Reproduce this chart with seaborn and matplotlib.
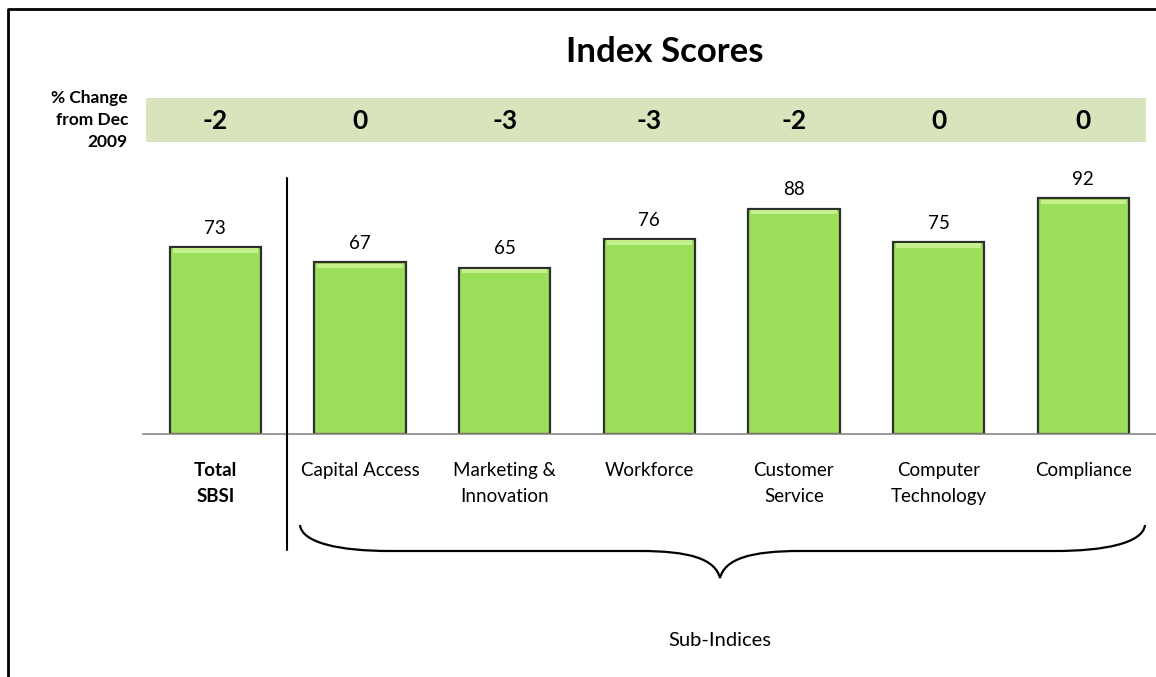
import matplotlib
matplotlib.use("Agg")
import matplotlib.pyplot as plt
from matplotlib.path import Path
from matplotlib.patches import PathPatch, Rectangle
import seaborn as sns
import pandas as pd

categories = ["Total\nSBSI", "Capital Access", "Marketing &\nInnovation", "Workforce",
              "Customer\nService", "Computer\nTechnology", "Compliance"]
scores = [73, 67, 65, 76, 88, 75, 92]
changes = [-2, 0, -3, -3, -2, 0, 0]

df = pd.DataFrame({"category": categories, "score": scores})

sns.set_style("white")
plt.rcParams["font.family"] = ["Lato", "DejaVu Sans"]
plt.rcParams["text.color"] = "black"
plt.rcParams["xtick.labelcolor"] = "black"

W, H = 1156, 677
fig = plt.figure(figsize=(W / 100, H / 100), dpi=100)


def fx(px):
    return px / W


def fy(py):
    return 1 - py / H


ax = fig.add_axes([fx(143), fy(434), fx(1156) - fx(143), fy(178) - fy(434)])
sns.barplot(data=df, x="category", y="score", ax=ax, color="#9BDE5A",
            edgecolor="#2e2e2e", linewidth=1.6, width=0.63, saturation=1)
ax.set_ylim(0, 100)
ax.set_xlim(-0.483, 6.503)
ax.set_xlabel("")
ax.set_ylabel("")
ax.set_yticks([])
for s in ["top", "right", "left"]:
    ax.spines[s].set_visible(False)
ax.spines["bottom"].set_color("#888888")
ax.spines["bottom"].set_linewidth(1.2)

# boundary ticks
ax.set_xticks([i - 0.5 for i in range(len(categories) + 1)], minor=True)
ax.tick_params(axis="x", which="minor", length=5, color="#888888", width=1.2, direction="out")
ax.tick_params(axis="x", which="major", length=0, pad=20)
ax.set_xticks(range(len(categories)))
ax.set_xticklabels(categories, fontsize=13.5, linespacing=1.65, va="top")
ax.get_xticklabels()[0].set_fontweight("bold")

# values above bars
for i, v in enumerate(scores):
    ax.text(i, v + 4, str(v), ha="center", va="bottom", fontsize=13.5)

# light top highlight on bars
for p in ax.patches:
    x0, w, h = p.get_x(), p.get_width(), p.get_height()
    ax.add_patch(Rectangle((x0 + 0.02, h - 2.2), w - 0.04, 1.8,
                           facecolor="#C4F08E", edgecolor="none", zorder=3))

# change band
fig.patches.append(Rectangle((fx(146), fy(142)), fx(1146) - fx(146), fy(98) - fy(142),
                             transform=fig.transFigure, facecolor="#D7E4BC",
                             edgecolor="none", zorder=0))
trans = matplotlib.transforms.blended_transform_factory(ax.transData, fig.transFigure)
for i, c in enumerate(changes):
    fig.text(i, fy(121), str(c), transform=trans, ha="center", va="center",
             fontsize=19, fontweight="bold")

fig.text(fx(128), fy(120), "% Change\nfrom Dec\n2009", ha="right", va="center",
         fontsize=12.5, fontweight="bold", linespacing=1.45)

fig.text(fx(665), fy(52), "Index Scores", ha="center", va="center",
         fontsize=25, fontweight="bold")

# separator line
fig.add_artist(plt.Line2D([fx(287), fx(287)], [fy(178), fy(550)],
                          transform=fig.transFigure, color="black", lw=1.5))

# curly brace under sub-indices
xl, xr, xm = 300, 1145, 720
y0, y1, yt = 525, 551, 578
verts = [
    (xl, y0), (xl + 2, y1 - 8), (xl + 40, y1), (xl + 90, y1),
    (xm - 80, y1),
    (xm - 30, y1), (xm - 5, y1 + 8), (xm, yt),
    (xm + 5, y1 + 8), (xm + 30, y1), (xm + 80, y1),
    (xr - 90, y1),
    (xr - 40, y1), (xr - 2, y1 - 8), (xr, y0),
]
codes = [Path.MOVETO, Path.CURVE4, Path.CURVE4, Path.CURVE4,
         Path.LINETO,
         Path.CURVE4, Path.CURVE4, Path.CURVE4,
         Path.CURVE4, Path.CURVE4, Path.CURVE4,
         Path.LINETO,
         Path.CURVE4, Path.CURVE4, Path.CURVE4]
verts = [(fx(a), fy(b)) for a, b in verts]
fig.patches.append(PathPatch(Path(verts, codes), transform=fig.transFigure,
                             facecolor="none", edgecolor="black", lw=1.6))

fig.text(fx(720), fy(640), "Sub-Indices", ha="center", va="center", fontsize=14.5)

# outer border
fig.add_artist(plt.Line2D([fx(8), fx(8), fx(1160)], [fy(700), fy(9), fy(9)],
                          transform=fig.transFigure, color="black", lw=2))

fig.savefig("out.png", dpi=100)
